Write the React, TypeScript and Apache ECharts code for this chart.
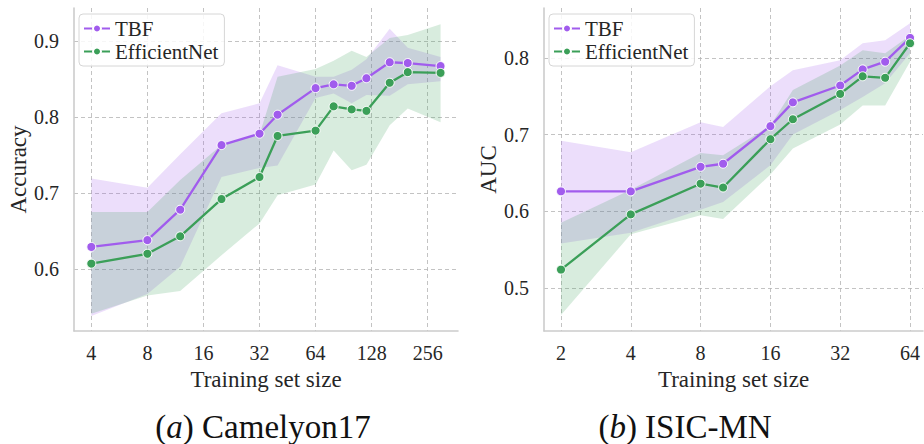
import React, { useEffect, useRef } from 'react';
import * as echarts from 'echarts';

// ---------- data (Camelyon17) ----------
const camSizes = [4, 8, 12, 20, 32, 40, 64, 80, 100, 120, 160, 200, 300];
const camTBF = [0.629, 0.638, 0.678, 0.763, 0.778, 0.803, 0.838, 0.843, 0.841, 0.851, 0.872, 0.871, 0.867];
const camTBFLow = [0.538, 0.567, 0.603, 0.721, 0.733, 0.736, 0.825, 0.831, 0.818, 0.829, 0.828, 0.843, 0.847];
const camTBFHigh = [0.719, 0.707, 0.751, 0.805, 0.818, 0.868, 0.853, 0.853, 0.862, 0.876, 0.916, 0.891, 0.879];
const camEff = [0.607, 0.62, 0.643, 0.692, 0.721, 0.775, 0.782, 0.814, 0.81, 0.808, 0.845, 0.859, 0.858];
const camEffLow = [0.541, 0.565, 0.571, 0.618, 0.66, 0.697, 0.711, 0.756, 0.73, 0.737, 0.789, 0.811, 0.793];
const camEffHigh = [0.675, 0.675, 0.717, 0.763, 0.777, 0.853, 0.863, 0.874, 0.887, 0.879, 0.904, 0.908, 0.922];
const camXTicks = [4, 8, 16, 32, 64, 128, 256];
const camYTicks = [0.6, 0.7, 0.8, 0.9];

// ---------- data (ISIC-MN) ----------
const isicSizes = [2, 4, 8, 10, 16, 20, 32, 40, 50, 64];
const isicTBF = [0.626, 0.626, 0.658, 0.662, 0.711, 0.742, 0.764, 0.785, 0.795, 0.826];
const isicTBFLow = [0.558, 0.572, 0.602, 0.612, 0.66, 0.7, 0.732, 0.749, 0.767, 0.806];
const isicTBFHigh = [0.692, 0.677, 0.716, 0.71, 0.763, 0.784, 0.797, 0.819, 0.823, 0.845];
const isicEff = [0.524, 0.596, 0.636, 0.631, 0.694, 0.72, 0.753, 0.776, 0.774, 0.819];
const isicEffLow = [0.465, 0.57, 0.595, 0.59, 0.648, 0.682, 0.713, 0.738, 0.738, 0.795];
const isicEffHigh = [0.585, 0.628, 0.676, 0.673, 0.712, 0.758, 0.79, 0.81, 0.806, 0.829];
const isicXTicks = [2, 4, 8, 16, 32, 64];
const isicYTicks = [0.5, 0.6, 0.7, 0.8];

const seriesNames = ['TBF', 'EfficientNet'];
const captions = ['Camelyon17', 'ISIC-MN'];
const captionLetters = ['a', 'b'];
const yNames = ['Accuracy', 'AUC'];
const xName = 'Training set size';

const PURPLE = '#a15ced';
const GREEN = '#3b9f58';
const PURPLE_FILL = 'rgba(161,92,237,0.2)';
const GREEN_FILL = 'rgba(59,159,88,0.2)';
const TEXT = '#262626';
const FONT = 'Liberation Serif';

function bandSeries(xs: number[], lo: number[], hi: number[], fill: string, idx: number) {
  const data = xs.map((x, i) => [Math.log2(x), lo[i], hi[i]]);
  return {
    type: 'custom',
    xAxisIndex: idx,
    yAxisIndex: idx,
    silent: true,
    z: 1,
    data,
    encode: { x: 0, y: [1, 2] },
    renderItem: (params: any, api: any) => {
      if (params.dataIndex !== 0) return null;
      const top = data.map((d) => api.coord([d[0], d[2]]));
      const bot = data.map((d) => api.coord([d[0], d[1]])).reverse();
      return {
        type: 'polygon',
        shape: { points: top.concat(bot) },
        style: { fill },
      };
    },
  };
}

function lineSeries(name: string, xs: number[], ys: number[], color: string, idx: number) {
  return {
    type: 'line',
    name,
    xAxisIndex: idx,
    yAxisIndex: idx,
    z: 3,
    data: xs.map((x, i) => [Math.log2(x), ys[i]]),
    symbol: 'circle',
    symbolSize: 9,
    showSymbol: true,
    lineStyle: { color, width: 2.3 },
    itemStyle: { color, borderColor: '#ffffff', borderWidth: 1 },
  };
}

function xAxis(idx: number, min: number, max: number, ticks: number[]) {
  const vals = ticks.map((t) => Math.log2(t));
  return {
    type: 'value',
    gridIndex: idx,
    min,
    max,
    name: xName,
    nameLocation: 'middle',
    nameGap: 34,
    nameTextStyle: { fontFamily: FONT, fontSize: 23, color: TEXT },
    axisLine: { show: true, onZero: false, lineStyle: { color: '#cccccc', width: 1.6 } },
    axisTick: { show: false, customValues: vals },
    axisLabel: {
      customValues: vals,
      formatter: (v: number) => String(Math.round(Math.pow(2, v))),
      margin: 12,
      fontFamily: FONT,
      fontSize: 20,
      color: TEXT,
    },
    splitLine: { show: true, lineStyle: { color: '#b4b4b4', width: 0.8, type: [4, 3] } },
  };
}

function yAxis(idx: number, min: number, max: number, ticks: number[], name: string) {
  return {
    type: 'value',
    gridIndex: idx,
    min,
    max,
    name,
    nameLocation: 'middle',
    nameGap: 43,
    nameTextStyle: { fontFamily: FONT, fontSize: 23, color: TEXT },
    axisLine: { show: true, onZero: false, lineStyle: { color: '#cccccc', width: 1.6 } },
    axisTick: { show: false, customValues: ticks },
    axisLabel: {
      customValues: ticks,
      formatter: (v: number) => v.toFixed(1),
      margin: 15,
      fontFamily: FONT,
      fontSize: 20,
      color: TEXT,
    },
    splitLine: { show: true, lineStyle: { color: '#b4b4b4', width: 0.8, type: [4, 3] } },
  };
}

function legend(left: number) {
  return {
    data: seriesNames,
    left,
    top: 14,
    orient: 'vertical',
    itemWidth: 26,
    itemHeight: 10,
    itemGap: 2,
    padding: [4, 6, 4, 4],
    backgroundColor: 'rgba(255,255,255,0.85)',
    borderColor: '#d6d6d6',
    borderWidth: 1,
    borderRadius: 4,
    selectedMode: false,
    textStyle: { fontFamily: FONT, fontSize: 21, color: TEXT },
  };
}

function caption(letter: string, text: string, cx: number) {
  return {
    type: 'text',
    x: cx,
    y: 427,
    style: {
      text: `{n|(}{i|${letter}}{n|) ${text}}`,
      align: 'center',
      verticalAlign: 'middle',
      fill: '#111111',
      rich: {
        n: { fontFamily: FONT, fontSize: 33, fill: '#111111' },
        i: { fontFamily: FONT, fontSize: 33, fontStyle: 'italic', fill: '#111111' },
      },
    },
  };
}

export default function App() {
  const ref = useRef<HTMLDivElement>(null);
  useEffect(() => {
    if (!ref.current) return;
    const chart = echarts.init(ref.current, undefined, { renderer: 'svg' });
    chart.setOption({
      animation: false,
      backgroundColor: '#ffffff',
      textStyle: { fontFamily: FONT },
      grid: [
        { left: 74, top: 8, width: 384, height: 323 },
        { left: 544, top: 8, width: 379, height: 323 },
      ],
      xAxis: [xAxis(0, 1.691, 8.54, camXTicks), xAxis(1, 0.7564, 6.186, isicXTicks)],
      yAxis: [yAxis(0, 0.5184, 0.9434, camYTicks, yNames[0]), yAxis(1, 0.444, 0.865, isicYTicks, yNames[1])],
      legend: [legend(79), legend(549)],
      series: [
        bandSeries(camSizes, camTBFLow, camTBFHigh, PURPLE_FILL, 0),
        bandSeries(camSizes, camEffLow, camEffHigh, GREEN_FILL, 0),
        lineSeries(seriesNames[0], camSizes, camTBF, PURPLE, 0),
        lineSeries(seriesNames[1], camSizes, camEff, GREEN, 0),
        bandSeries(isicSizes, isicTBFLow, isicTBFHigh, PURPLE_FILL, 1),
        bandSeries(isicSizes, isicEffLow, isicEffHigh, GREEN_FILL, 1),
        lineSeries(seriesNames[0], isicSizes, isicTBF, PURPLE, 1),
        lineSeries(seriesNames[1], isicSizes, isicEff, GREEN, 1),
      ],
      graphic: [caption(captionLetters[0], captions[0], 263), caption(captionLetters[1], captions[1], 685)],
    });
    return () => chart.dispose();
  }, []);
  return (
    <div
      ref={ref}
      style={{ position: 'absolute', left: 0, top: 0, width: 924, height: 444 }}
    />
  );
}
